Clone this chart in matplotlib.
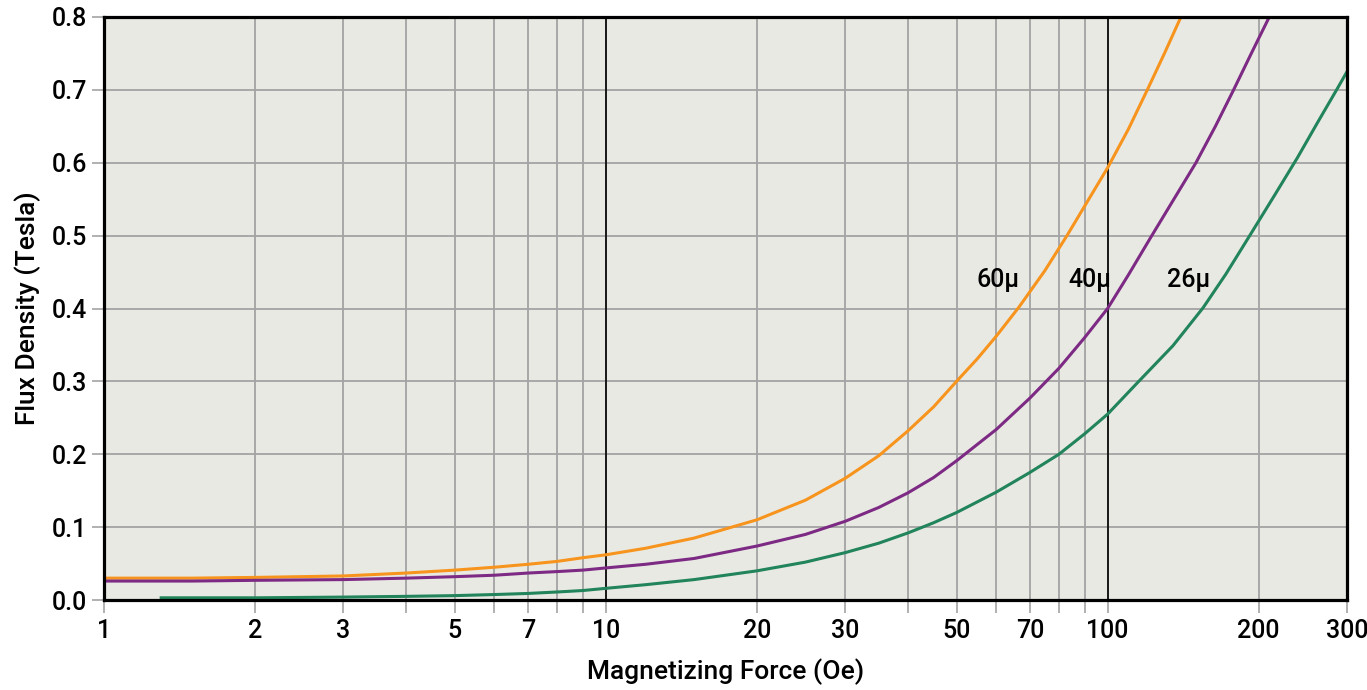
import matplotlib
matplotlib.use("Agg")
import matplotlib.pyplot as plt
from matplotlib.ticker import FixedLocator, FixedFormatter, NullFormatter

plt.rcParams["font.family"] = ["Roboto", "DejaVu Sans"]

# --- data -----------------------------------------------------------------
h_60 = [1, 1.5, 2, 3, 4, 5, 6, 7, 8, 9, 10, 12, 15, 20, 25, 30, 35, 40, 45,
        50, 55, 60, 66.6, 75, 83, 91, 100, 110, 120, 130, 140]
b_60 = [0.030, 0.030, 0.031, 0.033, 0.037, 0.041, 0.045, 0.049, 0.053, 0.058,
        0.062, 0.071, 0.085, 0.110, 0.137, 0.167, 0.198, 0.232, 0.265, 0.300,
        0.331, 0.362, 0.402, 0.452, 0.500, 0.546, 0.593, 0.646, 0.700, 0.751,
        0.800]

h_40 = [1, 1.5, 2, 3, 4, 5, 6, 7, 8, 9, 10, 12, 15, 20, 25, 30, 35, 40, 45,
        50, 60, 70, 80, 90, 100, 110, 122, 135, 150, 164, 178, 194, 210]
b_40 = [0.026, 0.026, 0.027, 0.028, 0.030, 0.032, 0.034, 0.037, 0.039, 0.041,
        0.044, 0.049, 0.057, 0.074, 0.090, 0.108, 0.127, 0.147, 0.168, 0.191,
        0.234, 0.277, 0.318, 0.360, 0.400, 0.446, 0.498, 0.548, 0.600, 0.650,
        0.699, 0.752, 0.800]

h_26 = [1.3, 2, 3, 4, 5, 6, 7, 8, 9, 10, 12, 15, 20, 25, 30, 35, 40, 45, 50,
        60, 70, 80, 90, 100, 115, 135, 155, 172, 190, 215, 239, 262, 286, 300]
b_26 = [0.003, 0.003, 0.004, 0.005, 0.006, 0.0075, 0.009, 0.011, 0.013, 0.016,
        0.021, 0.028, 0.040, 0.052, 0.065, 0.078, 0.092, 0.106, 0.120, 0.148,
        0.175, 0.200, 0.228, 0.255, 0.299, 0.349, 0.401, 0.447, 0.495, 0.555,
        0.607, 0.655, 0.700, 0.725]

x_ticks = [1, 2, 3, 5, 7, 10, 20, 30, 50, 70, 100, 200, 300]
x_minor = [4, 6, 8, 9, 40, 60, 80, 90]
y_ticks = [0.0, 0.1, 0.2, 0.3, 0.4, 0.5, 0.6, 0.7, 0.8]

curve_labels = ["60µ", "40µ", "26µ"]
label_x = [60.5, 92, 145]
label_y = 0.422

_ORANGE, _PURPLE, _GREEN = "#f7941d", "#7d2a84", "#21845a"
_BG, _GRID = "#e9e9e4", "#a3a3a3"

fig = plt.figure(figsize=(13.67, 6.9), dpi=100)
ax = fig.add_axes([104 / 1367, 1 - 600 / 690, 1243 / 1367, 583 / 690])
ax.set_facecolor(_BG)

ax.set_xscale("log")
ax.set_xlim(1, 300)
ax.set_ylim(0, 0.8)

ax.xaxis.set_major_locator(FixedLocator(x_ticks))
ax.xaxis.set_major_formatter(FixedFormatter([str(v) for v in x_ticks]))
ax.xaxis.set_minor_locator(FixedLocator(x_minor))
ax.xaxis.set_minor_formatter(NullFormatter())
ax.yaxis.set_major_locator(FixedLocator(y_ticks))
ax.set_yticklabels([f"{v:.1f}" for v in y_ticks])

ax.grid(True, which="both", color=_GRID, linewidth=1.3)
ax.set_axisbelow(True)
for v in (10, 100):
    ax.axvline(v, color="black", linewidth=1.2, zorder=1.5)

ax.tick_params(which="both", direction="out", length=9, width=1.2,
               color=_GRID, labelsize=18, pad=3)
ax.tick_params(axis="x", pad=5)
for lbl in ax.get_xticklabels() + ax.get_yticklabels():
    lbl.set_fontweight("medium")

for side in ("left", "right", "top", "bottom"):
    ax.spines[side].set_linewidth(2.3)
    ax.spines[side].set_color("black")
    ax.spines[side].set_zorder(5)

ax.plot(h_60, b_60, color=_ORANGE, linewidth=2.2, zorder=3)
ax.plot(h_40, b_40, color=_PURPLE, linewidth=2.2, zorder=3)
ax.plot(h_26, b_26, color=_GREEN, linewidth=2.2, zorder=3)

for lbl, lx in zip(curve_labels, label_x):
    ax.text(lx, label_y, lbl, ha="center", va="bottom", fontsize=18,
            fontweight="medium", color="black")

ax.set_xlabel("Magnetizing Force (Oe)", fontsize=19, fontweight="medium", labelpad=11)
ax.set_ylabel("Flux Density (Tesla)", fontsize=19, fontweight="medium", labelpad=8)

fig.savefig("out.png", dpi=100)
